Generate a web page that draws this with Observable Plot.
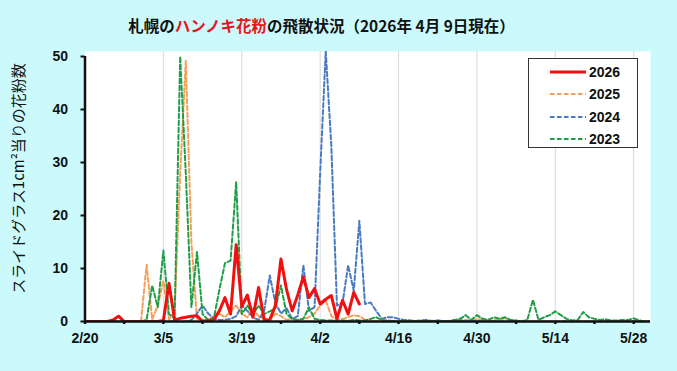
<!DOCTYPE html>
<html>
<head>
<meta charset="utf-8">
<script src="https://cdn.jsdelivr.net/npm/d3@7"></script>
<script src="https://cdn.jsdelivr.net/npm/@observablehq/plot@0.6"></script>
<style>
  html, body { margin: 0; padding: 0; background: #ccfafc; }
  #wrap { position: relative; width: 677px; height: 371px; overflow: hidden; }
  #title { position: absolute; left: 0; top: 14px; width: 643px; text-align: center;
    font-family: "Noto Sans CJK JP", sans-serif; font-weight: bold; font-size: 15.5px; line-height: 22px; color: #111; }
  #title .red { color: #e8141b; }
  #legend { position: absolute; left: 528px; top: 58px; width: 108px; height: 88px;
    border: 1.5px solid #333; background: #fff; font-family: "Liberation Sans", Arial, sans-serif;
    font-weight: bold; font-size: 14px; }
  .row { position: absolute; left: 0; height: 20px; width: 108px; }
  .row svg { position: absolute; left: 21px; top: 4px; }
  .row span { position: absolute; left: 60px; top: 1px; line-height: 18px; color: #111; }
  #chart { position: absolute; left: 0; top: 0; }
</style>
</head>
<body>
<div id="wrap">
  <div id="chart"></div>
  <div id="title">札幌の<span class="red">ハンノキ花粉</span>の飛散状況（2026年 4月 9日現在）</div>
  <div id="legend"></div>
</div>
<script>
// day index 0 = 2/20 (leap-year calendar, 5/31 = 101)
const xTickDays = [0, 14, 28, 42, 56, 70, 84, 98];
const xTickLabels = ["2/20", "3/5", "3/19", "4/2", "4/16", "4/30", "5/14", "5/28"];
const xMinorDays = [7, 21, 35, 49, 63, 77, 91];
const yTicks = [0, 10, 20, 30, 40, 50];

const years = ["2026", "2025", "2024", "2023"];
const colors = ["#f01010", "#f5a05a", "#4a7bc0", "#1f9e48"];

const y2026 = [0,0,0,0,0,0.3,1,0,0,0, 0,0,0,0,0.2,7.2,0.3,0.6,0.8,1,
  1.1,0,0.2,0.3,2,4.5,1.4,14.5,2.8,5,
  0.8,6.4,0.3,0.3,3,11.8,6,2,5,8.4,
  4.5,6.2,3.3,4.2,4.9,0.5,4,1.4,5.5,3.3];

const y2025 = [0,0,0,0,0,0,0,0,0,0,
  0,10.7,0.4,3,7.7,0.4,2,28,49.2,15,
  0.5,0.3,0.3,1,1.5,0.8,2,3,1.5,0.8,
  2.5,1,0.5,0.3,1.5,1,0.3,0.5,0.3,0.5,
  0.8,1.5,3,4,1,0.3,0.5,0.8,1.2,1,
  0.3,0.2,0.1,0.2,0.3,0.1,0,0.1,0.2,0,
  0,0.1,0,0.2,0,0,0.1,0.2,0.3,0.2,
  0.5,0.3,0.1,0.2,0.4,0.6,0.2,0.1,0,0,
  0,0,0.1,0,0,0,0.1,0,0,0.1,
  0,0,0,0,0,0,0,0,0,0,
  0,0];

const y2024 = [0,0,0,0,0,0,0,0,0,0,
  0,0,0,0,0,0,0,0,0,0.3,
  1.5,3,1.5,0.5,0.3,0.3,0.5,1,3,2,
  0.8,0.3,2,8.7,3.5,1.5,2.5,0.5,1,10.6,
  2,2.7,28,51,33,3,3.5,10.6,5.8,19,
  3.3,3.6,2,0.5,0.8,0.8,0.5,0.3,0.2,0.1,
  0.2,0.3,0.1,0.2,0.1,0,0.1,0.2,0.1,0,
  0.1,0,0,0.1,0,0,0,0,0,0,
  0,0,0,0,0,0,0,0,0,0,
  0,0,0,0,0,0,0,0,0,0,
  0,0];

const y2023 = [0,0,0,0,0,0,0,0,0,0,
  0,0.3,6.8,2.7,13.4,1.4,0.5,50,28,2.7,
  13.1,1.4,0.3,0.5,6,11,11.5,26.3,1.4,3,
  1.4,3,1.4,1.9,2.5,6.8,1.4,0.5,0.3,0.5,
  2.7,0.5,0.3,0.2,0.2,0.1,0.2,0.1,0.3,0.2,
  0.2,0.5,0.8,0.3,0.1,0.1,0,0.1,0,0.1,
  0,0.1,0,0,0.1,0.1,0.3,0.5,1.2,0.3,
  1.2,0.5,0.3,0.8,0.5,0.8,0.3,0.2,0,0.3,
  4.1,0.3,0.8,1.2,1.9,1.2,0.5,0.2,0.3,1.8,
  0.8,0.5,0.3,0.4,0.2,0.2,0.3,0.3,0.6,0.2,
  0,0];

const series = [y2026, y2025, y2024, y2023];
const rows = (arr) => arr.map((v, i) => ({day: i, value: v}));
const labelMap = new Map(xTickDays.map((d, i) => [d, xTickLabels[i]]));

const styleOf = [
  {strokeWidth: 3, dash: null},
  {strokeWidth: 2, dash: "4.5,2.5"},
  {strokeWidth: 2, dash: "4.5,2.5"},
  {strokeWidth: 2, dash: "4.5,2.5"}
];

const drawOrder = [1, 2, 3, 0];
const lineMarks = drawOrder.map(k => Plot.line(rows(series[k]), {
  x: "day", y: "value", stroke: colors[k], strokeWidth: styleOf[k].strokeWidth,
  strokeDasharray: styleOf[k].dash, strokeLinejoin: "round", clip: true
}));

const chart = Plot.plot({
  width: 677,
  height: 371,
  marginLeft: 84.5,
  marginRight: 27,
  marginTop: 51,
  marginBottom: 50,
  style: {background: "transparent", fontFamily: "'Liberation Sans', Arial, sans-serif", color: "#111"},
  x: {domain: [0, 101]},
  y: {domain: [0, 50], range: [321, 56]},
  marks: [
    Plot.frame({fill: "white", stroke: null}),
    Plot.ruleX(xTickDays.slice(1), {stroke: "#dadada", strokeWidth: 1}),
    ...lineMarks,
    Plot.ruleY([0], {stroke: "#111", strokeWidth: 2.5}),
    Plot.ruleX([0], {y1: 0, y2: 50, stroke: "#111", strokeWidth: 2.5}),
    Plot.axisY({ticks: yTicks, tickSize: 4, tickPadding: 13, strokeWidth: 2, fontSize: 14, fontWeight: "bold", label: null}),
    Plot.axisX({ticks: xTickDays, tickFormat: d => labelMap.get(d), tickSize: 3, tickPadding: 9, strokeWidth: 2.5, fontSize: 14, fontWeight: "bold", label: null}),
    Plot.axisX({ticks: xMinorDays, tickFormat: () => "", tickSize: 3, strokeWidth: 2.5, label: null}),
    Plot.text(["スライドグラス1cm²当りの花粉数"], {frameAnchor: "left", textAnchor: "middle", dx: -66, dy: -8, rotate: -90, fontSize: 15, fontFamily: "Noto Sans CJK JP", fill: "#111"})
  ]
});
document.getElementById("chart").appendChild(chart);

// legend
const legend = document.getElementById("legend");
const rowTops = [3, 25, 48, 70];
years.forEach((yr, k) => {
  const r = document.createElement("div");
  r.className = "row";
  r.style.top = rowTops[k] + "px";
  const dash = styleOf[k].dash ? `stroke-dasharray="${styleOf[k].dash}"` : "";
  r.innerHTML = `<svg width="36" height="12"><line x1="0" y1="6" x2="36" y2="6" stroke="${colors[k]}" stroke-width="${styleOf[k].strokeWidth}" ${dash}/></svg><span>${yr}</span>`;
  legend.appendChild(r);
});
</script>
</body>
</html>
